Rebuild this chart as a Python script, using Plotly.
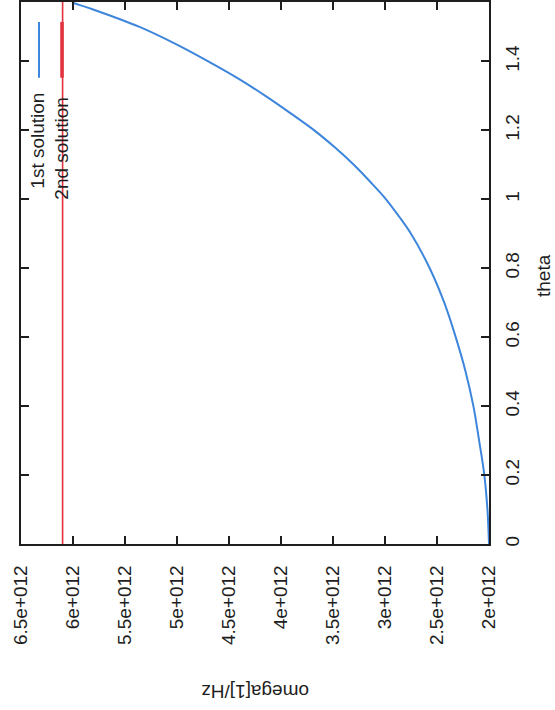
import plotly.graph_objects as go

# ---- data ----
theta_1st = [0.0, 0.1, 0.2, 0.3, 0.4, 0.5, 0.6, 0.7, 0.8, 0.9, 0.95, 1.0, 1.05,
             1.1, 1.15, 1.2, 1.25, 1.3, 1.35, 1.4, 1.45, 1.5, 1.55, 1.5708]
omega_1st = [2.000e12, 2.015e12, 2.045e12, 2.095e12, 2.150e12, 2.225e12, 2.320e12,
             2.430e12, 2.570e12, 2.750e12, 2.865e12, 2.990e12, 3.140e12, 3.300e12,
             3.480e12, 3.680e12, 3.910e12, 4.150e12, 4.410e12, 4.700e12, 5.010e12,
             5.360e12, 5.800e12, 6.010e12]

theta_2nd = [0.0, 1.6]
omega_2nd = [6.1e12, 6.1e12]

omega_ticks = [2.0e12, 2.5e12, 3.0e12, 3.5e12, 4.0e12, 4.5e12, 5.0e12, 5.5e12, 6.0e12, 6.5e12]
omega_tick_text = ["2e+012", "2.5e+012", "3e+012", "3.5e+012", "4e+012",
                   "4.5e+012", "5e+012", "5.5e+012", "6e+012", "6.5e+012"]
theta_ticks = [0, 0.2, 0.4, 0.6, 0.8, 1.0, 1.2, 1.4, 1.6]
theta_tick_text = ["0", "0.2", "0.4", "0.6", "0.8", "1", "1.2", "1.4", "1.6"]

series_names = ["1st solution", "2nd solution"]
BLUE = "#3d86dc"
RED = "#e2323d"
INK = "#1e1e1e"
FONT = "Liberation Sans, Arial, sans-serif"

W, H = 555, 710
L, R, T, B = 21, 66, 0, 166
PW, PH = W - L - R, H - T - B

fig = go.Figure()
fig.add_trace(go.Scatter(x=omega_1st, y=theta_1st, mode="lines", name=series_names[0],
                         line=dict(color=BLUE, width=2, shape="spline", smoothing=1.0),
                         showlegend=False))
fig.add_trace(go.Scatter(x=omega_2nd, y=theta_2nd, mode="lines", name=series_names[1],
                         line=dict(color=RED, width=1.6), showlegend=False))

def px_x(px):
    return (px - L) / PW

def px_y(py):
    return (H - B - py) / PH

fig.update_layout(
    width=W, height=H,
    margin=dict(l=L, r=R, t=T, b=B, pad=0),
    paper_bgcolor="white", plot_bgcolor="white",
    font=dict(family=FONT, size=19, color=INK),
    xaxis=dict(range=[6.5e12, 2.0e12], tickvals=omega_ticks, ticktext=omega_tick_text,
               tickangle=-90, ticks="inside", ticklen=8, tickwidth=1.5, tickcolor=INK,
               showline=True, linecolor=INK, linewidth=1.5, mirror="ticks",
               showgrid=False, zeroline=False, ticklabelstandoff=12,
               tickfont=dict(size=19, color=INK)),
    yaxis=dict(range=[0, 1.5723], side="right", tickvals=theta_ticks, ticktext=theta_tick_text,
               tickangle=-90, ticks="inside", ticklen=8, tickwidth=1.5, tickcolor=INK,
               showline=True, linecolor=INK, linewidth=1.5, mirror="ticks",
               showgrid=False, zeroline=False, ticklabelstandoff=5,
               tickfont=dict(size=19, color=INK)),
)

# axis titles (rotated as in the scanned page)
fig.add_annotation(text="theta", xref="paper", yref="paper", x=px_x(544), y=px_y(275),
                   textangle=-90, showarrow=False, font=dict(size=19, color=INK),
                   xanchor="center", yanchor="middle")
fig.add_annotation(text="omega[1]/Hz", xref="paper", yref="paper", x=px_x(255), y=px_y(692),
                   textangle=180, showarrow=False, font=dict(size=19, color=INK),
                   xanchor="center", yanchor="middle")

# rotated legend
fig.add_shape(type="line", xref="paper", yref="paper", x0=px_x(39), x1=px_x(39),
              y0=px_y(20), y1=px_y(76), line=dict(color=BLUE, width=2))
fig.add_shape(type="line", xref="paper", yref="paper", x0=px_x(62), x1=px_x(62),
              y0=px_y(20), y1=px_y(76), line=dict(color=RED, width=3.5))
fig.add_annotation(text=series_names[0], xref="paper", yref="paper", x=px_x(38), y=px_y(89),
                   textangle=-90, showarrow=False, font=dict(size=19, color=INK),
                   xanchor="center", yanchor="top")
fig.add_annotation(text=series_names[1], xref="paper", yref="paper", x=px_x(62), y=px_y(94),
                   textangle=-90, showarrow=False, font=dict(size=19, color=INK),
                   xanchor="center", yanchor="top")

fig.write_html("out.html", config={"displayModeBar": False},
               post_script="document.body.style.margin='0px';")
